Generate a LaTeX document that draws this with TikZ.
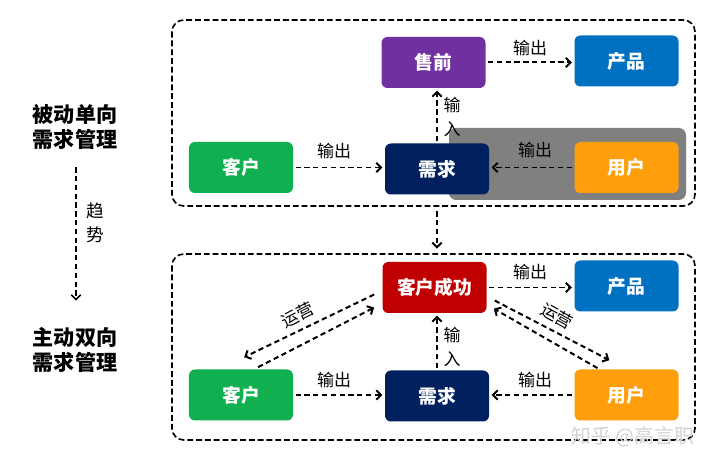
\documentclass[tikz,border=0pt]{standalone}
\usepackage{fontspec}
\setmainfont{Noto Sans CJK SC}
\usetikzlibrary{arrows.meta,calc}
\definecolor{ckehu}{HTML}{10B050}
\definecolor{cxuqiu}{HTML}{002060}
\definecolor{cshouqian}{HTML}{7030A0}
\definecolor{cchanpin}{HTML}{0070C0}
\definecolor{cyonghu}{HTML}{FF9E0C}
\definecolor{cchenggong}{HTML}{C00000}

\begin{document}
\begin{tikzpicture}[x=0.03cm, y=-0.03cm, >={Straight Barb[length=4pt,width=8pt]},
                    box/.style={rounded corners=5pt, minimum width=3.12cm, minimum height=1.53cm,
                                text=white, font=\fontsize{16}{18}\selectfont\bfseries},
                    flow/.style={->, line width=1.7pt, dash pattern=on 4.5pt off 3pt,
                                 shorten <=2pt, shorten >=2pt},
                    frame/.style={line width=1.4pt, dash pattern=on 5pt off 2.5pt, rounded corners=10pt},
                    lbl/.style={font=\fontsize{14.5}{15}\selectfont, inner sep=0pt},
                    title/.style={font=\fontsize{18}{21}\selectfont\bfseries, align=center}]
  \useasboundingbox (0,0) rectangle (716,460);
  % left column: the trend
  \node[title] (passive) at (75,127) {被动单向\\需求管理};
  \node[title] (active) at (75,350) {主动双向\\需求管理};
  \coordinate (trendtop) at (76,165);
  \coordinate (trendbot) at (76,303);
  \draw[flow, line width=1.4pt] (trendtop) -- (trendbot);
  \node[lbl, align=center, font=\fontsize{15}{21}\selectfont] (trend) at (95,223) {趋\\势};
  % upper frame: passive, one-way
  \draw[frame] (172,20) rectangle (695,206);
  \fill[gray, rounded corners=6pt] (449,128) rectangle (686,200);
  \node[box, fill=ckehu] (kehu1) at (241,167.5) {客户};
  \node[box, fill=cxuqiu] (xuqiu1) at (437,169) {需求};
  \node[box, fill=cshouqian] (shouqian) at (433.5,62.5) {售前};
  \node[box, fill=cchanpin] (chanpin1) at (626.5,61) {产品};
  \node[box, fill=cyonghu] (yonghu1) at (626.5,167.5) {用户};
  \draw[flow] (kehu1.east) -- (kehu1.east -| xuqiu1.west);
  \draw[flow] (shouqian.east) -- (shouqian.east -| chanpin1.west);
  \draw[flow] (xuqiu1.north) -- (xuqiu1.north |- shouqian.south);
  \draw[flow] (yonghu1.west) -- (yonghu1.west -| xuqiu1.east);
  \node[lbl] (out1) at (334,151) {输出};
  \node[lbl] (out2) at (530,48) {输出};
  \node[lbl] (out3) at (535,150) {输出};
  \node[lbl, align=center, font=\fontsize{14.5}{20}\selectfont] (in1) at (452,117) {输\\入};
  % between the frames
  \coordinate (gotop) at (437,209);
  \coordinate (gobot) at (437,251);
  \draw[flow] (gotop) -- (gobot);
  % lower frame: active, two-way
  \draw[frame] (172,254) rectangle (695,440);
  \node[box, fill=ckehu] (kehu2) at (241,395) {客户};
  \node[box, fill=cxuqiu] (xuqiu2) at (437,396) {需求};
  \node[box, fill=cchenggong] (chenggong) at (434.5,287.5) {客户成功};
  \node[box, fill=cchanpin] (chanpin2) at (626.5,286) {产品};
  \node[box, fill=cyonghu] (yonghu2) at (626.5,395) {用户};
  \draw[flow] (kehu2.east) -- (kehu2.east -| xuqiu2.west);
  \draw[flow] (chenggong.east) -- (chenggong.east -| chanpin2.west);
  \draw[flow] (xuqiu2.north) -- (xuqiu2.north |- chenggong.south);
  \draw[flow] (yonghu2.west) -- (yonghu2.west -| xuqiu2.east);
  \node[lbl] (out4) at (334,380) {输出};
  \node[lbl] (out5) at (530,272) {输出};
  \node[lbl] (out6) at (535,380) {输出};
  \node[lbl, align=center, font=\fontsize{14.5}{20}\selectfont] (in2) at (452,347) {输\\入};
  % operation, both ways
  \draw[flow] ($(chenggong.west)+(-6,6)$) -- ($(kehu2.north)+(1,-11)$);
  \draw[flow] ($(kehu2.north)+(15,-1)$) -- ($(chenggong.west)+(-6,19)$);
  \draw[flow] ($(chenggong.east)+(6,12)$) -- ($(yonghu2.north)+(-15,-8)$);
  \draw[flow] ($(yonghu2.north)+(-27,0)$) -- ($(chenggong.east)+(5,20)$);
  \node[lbl, rotate=27] (op1) at (298,315) {运营};
  \node[lbl, rotate=-29] (op2) at (557,316) {运营};
  % watermark
  \node[font=\fontsize{17}{18}\selectfont, text=gray!35, inner sep=0pt] (mark) at (633,437) {知乎 @高言职};
\end{tikzpicture}
\end{document}
